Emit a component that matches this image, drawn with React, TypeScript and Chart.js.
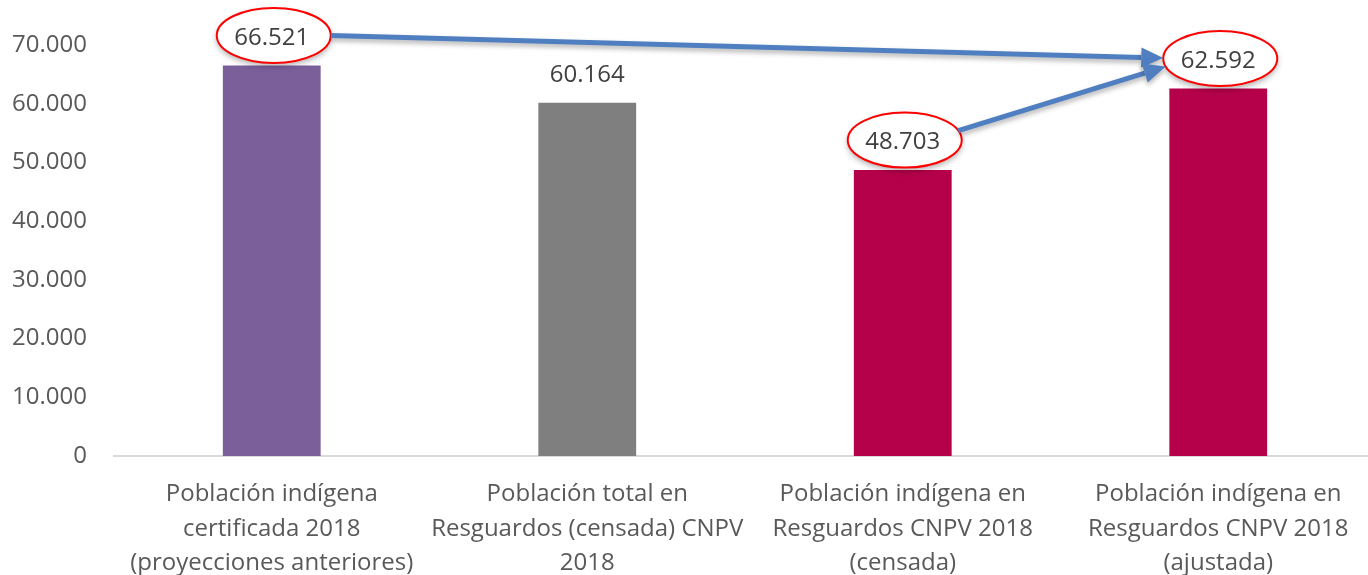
import React, { useEffect, useRef } from "react";
import { Chart, registerables } from "chart.js";

Chart.register(...registerables);

const categories: string[][] = [
  ["Población indígena", "certificada 2018", "(proyecciones anteriores)"],
  ["Población total en", "Resguardos (censada) CNPV", "2018"],
  ["Población indígena en", "Resguardos CNPV 2018", "(censada)"],
  ["Población indígena en", "Resguardos CNPV 2018", "(ajustada)"],
];
const values: number[] = [66521, 60164, 48703, 62592];
const barColors: string[] = ["#7B5F9B", "#7F7F7F", "#B5004A", "#B5004A"];
const yMin = 0;
const yMax = 70000;
const yStep = 10000;
const circled: number[] = [0, 2, 3];
const arrowFrom: number[] = [0, 2];
const arrowTo: number[] = [3, 3];
const arrowFromAngle: number[] = [0, -20];
const arrowToAngle: number[] = [181, 163];

const FONT = "'Open Sans', 'DejaVu Sans', sans-serif";

function fmt(v: number): string {
  return Math.round(v).toString().replace(/\B(?=(\d{3})+(?!\d))/g, ".");
}

type Ell = { cx: number; cy: number; rx: number; ry: number };

function ellPoint(e: Ell, deg: number) {
  const t = (deg * Math.PI) / 180;
  return { x: e.cx + e.rx * Math.cos(t), y: e.cy + e.ry * Math.sin(t) };
}

const overlay = {
  id: "overlay",
  afterDatasetsDraw(chart: any) {
    const ctx: CanvasRenderingContext2D = chart.ctx;
    const meta = chart.getDatasetMeta(0);
    const pos = meta.data.map((bar: any) => ({ x: bar.x, y: bar.y - 29.5 }));
    const ell: Ell[] = pos.map((p: any) => ({ cx: p.x + 2, cy: p.y - 0.5, rx: 57, ry: 27.5 }));

    // ellipses
    circled.forEach((i) => {
      const e = ell[i];
      ctx.save();
      ctx.shadowColor = "rgba(0,0,0,0.35)";
      ctx.shadowBlur = 6;
      ctx.shadowOffsetY = 3;
      ctx.beginPath();
      ctx.ellipse(e.cx, e.cy, e.rx, e.ry, 0, 0, Math.PI * 2);
      ctx.fillStyle = "#ffffff";
      ctx.fill();
      ctx.restore();
      ctx.save();
      ctx.beginPath();
      ctx.ellipse(e.cx, e.cy, e.rx, e.ry, 0, 0, Math.PI * 2);
      ctx.strokeStyle = "#FF0000";
      ctx.lineWidth = 2;
      ctx.stroke();
      ctx.restore();
    });

    // value labels
    ctx.save();
    ctx.font = `24px ${FONT}`;
    ctx.fillStyle = "#404040";
    ctx.textAlign = "center";
    ctx.textBaseline = "alphabetic";
    values.forEach((v, i) => {
      ctx.fillText(fmt(v), pos[i].x, pos[i].y + 8.6);
    });
    ctx.restore();

    // arrows
    arrowFrom.forEach((f, k) => {
      const a = ellPoint(ell[f], arrowFromAngle[k]);
      const b = ellPoint(ell[arrowTo[k]], arrowToAngle[k]);
      const ang = Math.atan2(b.y - a.y, b.x - a.x);
      const headLen = 22;
      const headHalf = 10;
      const bx = b.x - headLen * Math.cos(ang);
      const by = b.y - headLen * Math.sin(ang);
      ctx.save();
      ctx.shadowColor = "rgba(0,0,0,0.3)";
      ctx.shadowBlur = 5;
      ctx.shadowOffsetY = 3;
      ctx.strokeStyle = "#4F7FC0";
      ctx.fillStyle = "#4F7FC0";
      ctx.lineWidth = 5;
      ctx.beginPath();
      ctx.moveTo(a.x, a.y);
      ctx.lineTo(bx, by);
      ctx.stroke();
      ctx.beginPath();
      ctx.moveTo(b.x, b.y);
      ctx.lineTo(bx - headHalf * Math.sin(ang), by + headHalf * Math.cos(ang));
      ctx.lineTo(bx + headHalf * Math.sin(ang), by - headHalf * Math.cos(ang));
      ctx.closePath();
      ctx.fill();
      ctx.restore();
    });
  },
};

export default function App() {
  const ref = useRef<HTMLCanvasElement | null>(null);

  useEffect(() => {
    let chart: Chart | null = null;
    let cancelled = false;
    const make = () => {
      if (cancelled || !ref.current) return;
      chart = new Chart(ref.current, {
        type: "bar",
        data: {
          labels: categories,
          datasets: [
            {
              data: values,
              backgroundColor: barColors,
              borderWidth: 0,
              barPercentage: 0.31,
              categoryPercentage: 1,
            },
          ],
        },
        options: {
          responsive: false,
          animation: false,
          devicePixelRatio: 1,
          layout: { padding: { top: 45, right: 0, left: 0, bottom: 0 } },
          plugins: { legend: { display: false }, tooltip: { enabled: false } },
          scales: {
            x: {
              grid: { display: false, drawTicks: false },
              border: { display: true, color: "#D9D9D9", width: 2 },
              ticks: {
                font: { family: FONT, size: 24, lineHeight: 1.44 },
                color: "#595959",
                padding: 21,
                maxRotation: 0,
                autoSkip: false,
              },
              afterFit: (s: any) => {
                s.height = 119;
              },
            },
            y: {
              min: yMin,
              max: yMax,
              ticks: {
                stepSize: yStep,
                callback: (v: any) => fmt(Number(v)),
                font: { family: FONT, size: 24 },
                color: "#595959",
                padding: 27,
              },
              grid: { display: false, drawTicks: false },
              border: { display: false },
              afterFit: (s: any) => {
                s.width = 114;
              },
            },
          },
        },
        plugins: [overlay],
      } as any);
    };
    const fontsReady = (document as any).fonts
      ? Promise.all([
          (document as any).fonts.load(`24px 'Open Sans'`),
          (document as any).fonts.load(`22px 'Open Sans'`),
        ]).catch(() => null)
      : Promise.resolve(null);
    fontsReady.then(make);
    return () => {
      cancelled = true;
      if (chart) chart.destroy();
    };
  }, []);

  return (
    <div
      style={{
        position: "absolute",
        left: 0,
        top: 0,
        width: 1368,
        height: 575,
        overflow: "hidden",
        background: "#ffffff",
      }}
    >
      <canvas ref={ref} width={1376} height={575} style={{ display: "block" }} />
    </div>
  );
}
